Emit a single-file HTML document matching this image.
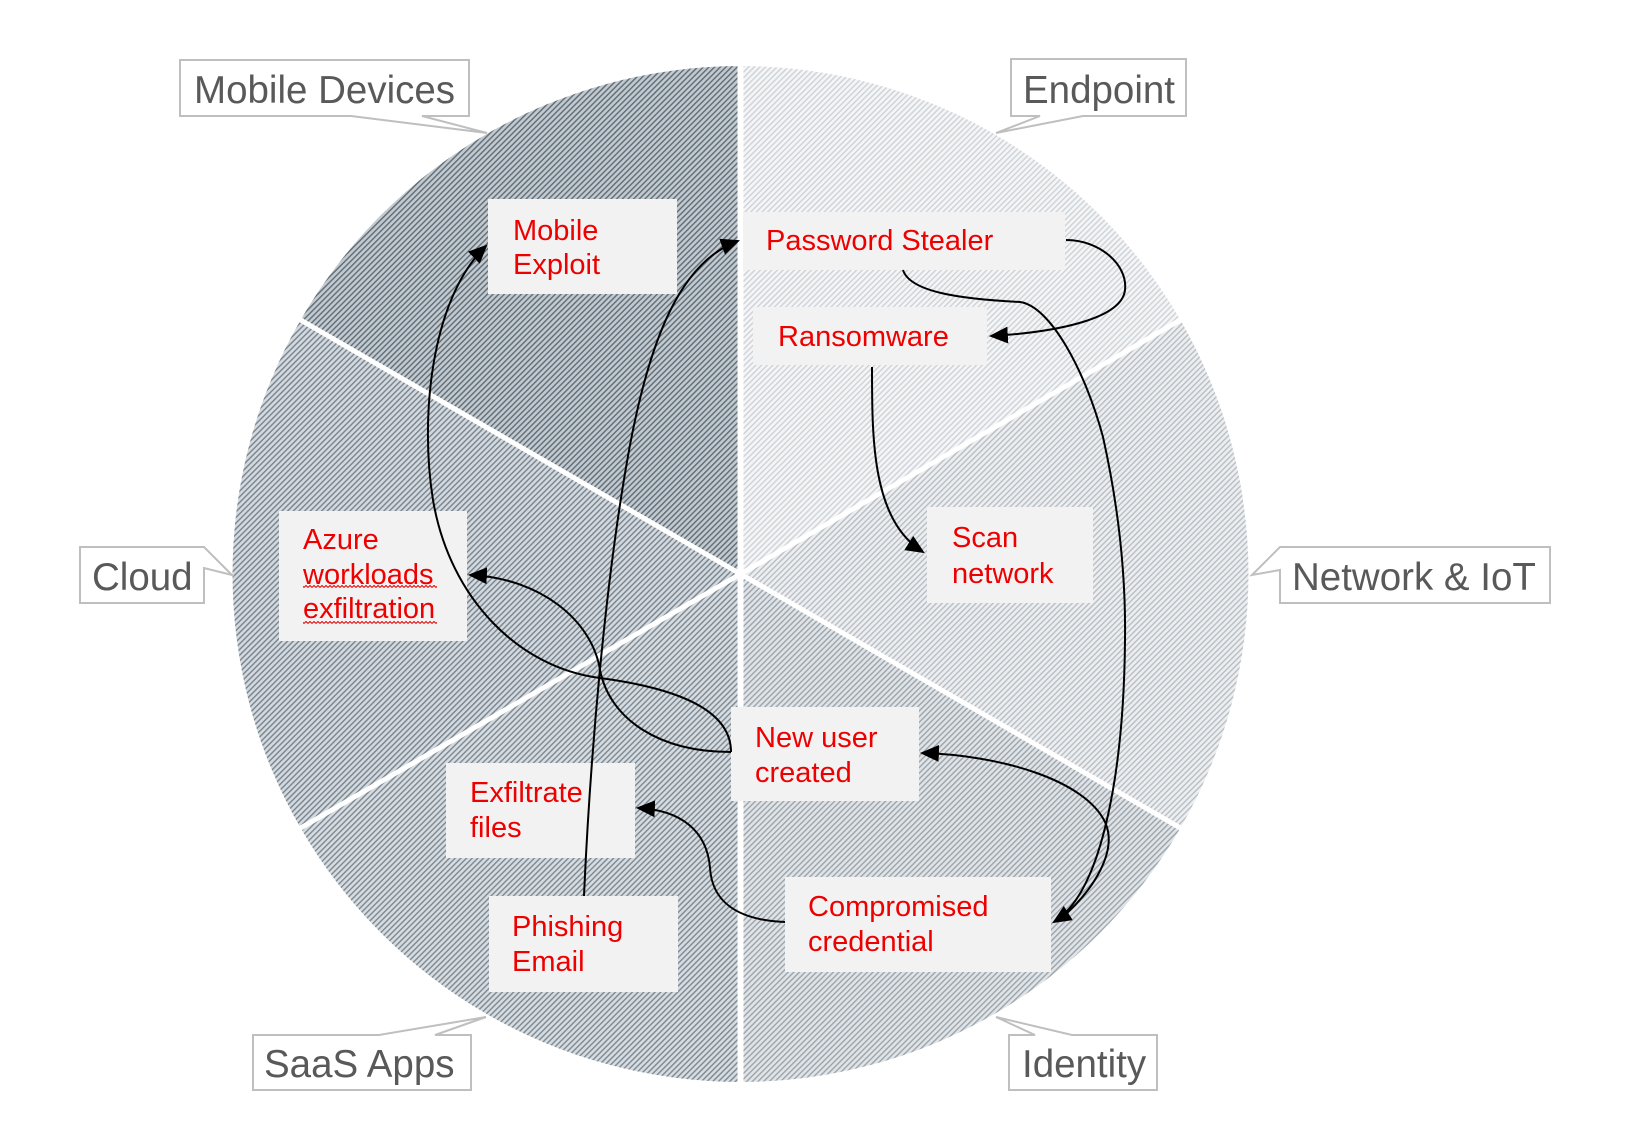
<!DOCTYPE html>
<html>
<head>
<meta charset="utf-8">
<style>
  html, body { margin: 0; padding: 0; background: #ffffff; }
  svg { display: block; }
  .cat { font-family: "Liberation Sans", Arial, sans-serif; font-size: 38.5px; fill: #595959; }
  .red { font-family: "Liberation Sans", Arial, sans-serif; font-size: 29px; fill: #ee0000; }
</style>
</head>
<body>
<svg width="1644" height="1146" viewBox="0 0 1644 1146" xmlns="http://www.w3.org/2000/svg">
  <defs>
    <pattern id="pMobile" width="4" height="4" patternUnits="userSpaceOnUse" patternTransform="rotate(45)">
      <rect width="4" height="4" fill="#c2cad0"/><rect width="1.4" height="4" fill="#5f6b75"/>
    </pattern>
    <pattern id="pEnd" width="4" height="4" patternUnits="userSpaceOnUse" patternTransform="rotate(45)">
      <rect width="4" height="4" fill="#f4f5f7"/><rect width="1.4" height="4" fill="#ced2d6"/>
    </pattern>
    <pattern id="pNet" width="4" height="4" patternUnits="userSpaceOnUse" patternTransform="rotate(45)">
      <rect width="4" height="4" fill="#eceef0"/><rect width="1.4" height="4" fill="#b8bec4"/>
    </pattern>
    <pattern id="pId" width="4" height="4" patternUnits="userSpaceOnUse" patternTransform="rotate(45)">
      <rect width="4" height="4" fill="#e0e4e7"/><rect width="1.4" height="4" fill="#9ba4ac"/>
    </pattern>
    <pattern id="pSaas" width="4" height="4" patternUnits="userSpaceOnUse" patternTransform="rotate(45)">
      <rect width="4" height="4" fill="#d6dce0"/><rect width="1.4" height="4" fill="#7c8892"/>
    </pattern>
    <pattern id="pCloud" width="4" height="4" patternUnits="userSpaceOnUse" patternTransform="rotate(45)">
      <rect width="4" height="4" fill="#d3d9de"/><rect width="1.4" height="4" fill="#77838d"/>
    </pattern>
    <pattern id="wave" width="4" height="3" patternUnits="userSpaceOnUse">
      <path d="M0,2.5 L2,0.5 L4,2.5" stroke="#e00000" fill="none" stroke-width="1"/>
    </pattern>
    <marker id="ah" viewBox="0 0 18 16" refX="16" refY="8" markerWidth="19" markerHeight="17" markerUnits="userSpaceOnUse" orient="auto">
      <path d="M0,0 L18,8 L0,16 Z" fill="#000"/>
    </marker>
  </defs>

  <!-- Sectors -->
  <path d="M740.5,574 L740.5,66 A508,508 0 0 1 1180.4,320 Z" fill="url(#pEnd)"/>
  <path d="M740.5,574 L1180.4,320 A508,508 0 0 1 1180.4,828 Z" fill="url(#pNet)"/>
  <path d="M740.5,574 L1180.4,828 A508,508 0 0 1 740.5,1082 Z" fill="url(#pId)"/>
  <path d="M740.5,574 L740.5,1082 A508,508 0 0 1 300.6,828 Z" fill="url(#pSaas)"/>
  <path d="M740.5,574 L300.6,828 A508,508 0 0 1 300.6,320 Z" fill="url(#pCloud)"/>
  <path d="M740.5,574 L300.6,320 A508,508 0 0 1 740.5,66 Z" fill="url(#pMobile)"/>

  <!-- white dividers -->
  <line x1="740.5" y1="55" x2="740.5" y2="1092" stroke="#ffffff" stroke-width="6"/>
  <line x1="292" y1="315" x2="1189" y2="833" stroke="#ffffff" stroke-width="5"/>
  <line x1="292" y1="833" x2="1189" y2="315" stroke="#ffffff" stroke-width="5"/>

  <!-- Category callouts -->
  <path d="M180,60 H469 V116 H422 L487,133 L351,116 H180 Z" fill="#ffffff" stroke="#bfbfbf" stroke-width="2"/>
  <text class="cat" x="194" y="103">Mobile Devices</text>

  <path d="M1011,59 H1186 V116 H1083 L996,133 L1040,116 H1011 Z" fill="#ffffff" stroke="#bfbfbf" stroke-width="2"/>
  <text class="cat" x="1023" y="103">Endpoint</text>

  <path d="M80,547 H204 L232,575 L204,568 V603 H80 Z" fill="#ffffff" stroke="#bfbfbf" stroke-width="2"/>
  <text class="cat" x="92" y="590">Cloud</text>

  <path d="M1280,547 H1550 V603 H1280 V570 L1252,575 L1280,547 Z" fill="#ffffff" stroke="#bfbfbf" stroke-width="2"/>
  <text class="cat" x="1292" y="590">Network &amp; IoT</text>

  <path d="M253,1035 H379 L486,1017 L435,1035 H471 V1090 H253 Z" fill="#ffffff" stroke="#bfbfbf" stroke-width="2"/>
  <text class="cat" x="264" y="1077">SaaS Apps</text>

  <path d="M1009,1035 H1035 L996,1017 L1072,1035 H1157 V1090 H1009 Z" fill="#ffffff" stroke="#bfbfbf" stroke-width="2"/>
  <text class="cat" x="1022" y="1077">Identity</text>

  <!-- Red label boxes -->
  <rect x="488" y="199" width="189" height="95" fill="#f2f2f2"/>
  <text class="red" x="513" y="240">Mobile</text>
  <text class="red" x="513" y="274">Exploit</text>

  <rect x="743" y="212" width="322" height="58" fill="#f2f2f2"/>
  <text class="red" x="766" y="250">Password Stealer</text>

  <rect x="753" y="307" width="234" height="58" fill="#f2f2f2"/>
  <text class="red" x="778" y="346">Ransomware</text>

  <rect x="927" y="507" width="166" height="96" fill="#f2f2f2"/>
  <text class="red" x="952" y="547">Scan</text>
  <text class="red" x="952" y="583">network</text>

  <rect x="279" y="511" width="188" height="130" fill="#f2f2f2"/>
  <text class="red" x="303" y="549">Azure</text>
  <text class="red" x="303" y="584">workloads</text>
  <text class="red" x="303" y="618">exfiltration</text>
  <rect x="303" y="585" width="134" height="3" fill="url(#wave)"/>
  <rect x="303" y="621" width="134" height="3" fill="url(#wave)"/>

  <rect x="731" y="707" width="188" height="94" fill="#f2f2f2"/>
  <text class="red" x="755" y="747">New user</text>
  <text class="red" x="755" y="782">created</text>

  <rect x="446" y="763" width="189" height="95" fill="#f2f2f2"/>
  <text class="red" x="470" y="802">Exfiltrate</text>
  <text class="red" x="470" y="837">files</text>

  <rect x="785" y="877" width="266" height="95" fill="#f2f2f2"/>
  <text class="red" x="808" y="916">Compromised</text>
  <text class="red" x="808" y="951">credential</text>

  <rect x="489" y="896" width="189" height="96" fill="#f2f2f2"/>
  <text class="red" x="512" y="936">Phishing</text>
  <text class="red" x="512" y="971">Email</text>

  <!-- Connectors -->
  <g fill="none" stroke="#000" stroke-width="2">
    <path d="M1066,240 C1100,240 1128,265 1125,290 C1122,318 1060,332 991,336" marker-end="url(#ah)"/>
    <path d="M903,270 C910,292 960,299 1020,302 C1050,306 1085,370 1103,437 C1117,500 1126,570 1125,640 C1124,760 1105,890 1054,922" marker-end="url(#ah)"/>
    <path d="M872,367 C872,440 872,520 923,552" marker-end="url(#ah)"/>
    <path d="M785,922 C735,920 712,900 710,868 C707,830 680,810 638,808" marker-end="url(#ah)"/>
    <path d="M1058,921 C1095,890 1118,850 1105,822 C1085,780 1000,755 922,753" marker-end="url(#ah)"/>
    <path d="M731,752 C660,752 610,720 600,670 C592,620 540,578 470,575" marker-end="url(#ah)"/>
    <path d="M731,752 C731,715 690,690 600,678 C520,668 450,600 433,500 C420,420 430,300 486,246" marker-end="url(#ah)"/>
    <path d="M584,896 C590,760 605,580 630,445 C650,340 680,262 738,241" marker-end="url(#ah)"/>
  </g>
</svg>
</body>
</html>
